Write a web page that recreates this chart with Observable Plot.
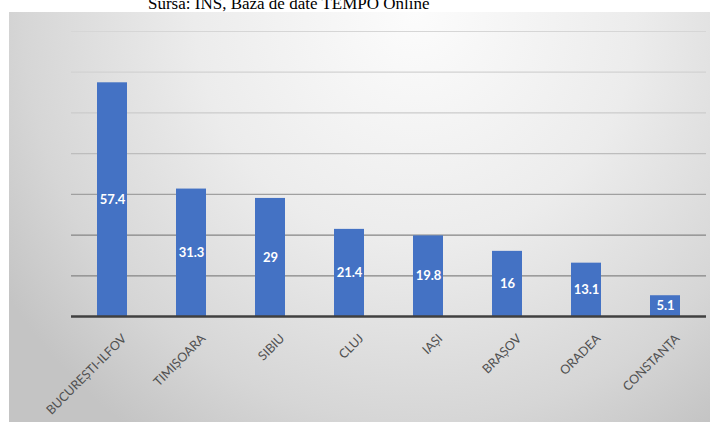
<!DOCTYPE html>
<html>
<head>
<meta charset="utf-8">
<script src="https://cdn.jsdelivr.net/npm/d3@7"></script>
<script src="https://cdn.jsdelivr.net/npm/@observablehq/plot@0.6"></script>
<style>
  html, body { margin: 0; padding: 0; background: #ffffff; }
  #wrap { position: relative; width: 710px; height: 422px; overflow: hidden; }
  #title { position: absolute; left: 148px; top: -5px; font-family: "Liberation Serif", "Times New Roman", serif; font-size: 17px; line-height: 17px; color: #000; white-space: nowrap; }
  #chart { position: absolute; left: 9px; top: 12px; }
</style>
</head>
<body>
<div id="wrap">
  <div id="title">Sursa: INS, Baza de date TEMPO Online</div>
  <div id="chart"></div>
</div>
<script>
const categories = ["BUCUREȘTI-ILFOV", "TIMIȘOARA", "SIBIU", "CLUJ", "IAȘI", "BRAȘOV", "ORADEA", "CONSTANȚA"];
const values = [57.4, 31.3, 29, 21.4, 19.8, 16, 13.1, 5.1];
const gridTicks = [0, 10, 20, 30, 40, 50, 60, 70];

const data = categories.map((c, i) => ({category: c, value: values[i]}));

const gridColor = v => v >= 70 ? "#d6d6d6" : v >= 60 ? "#d2d2d2" : v >= 50 ? "#cbcbcb" : v >= 40 ? "#bdbdbd" : v >= 30 ? "#a0a0a0" : "#858585";

const chart = Plot.plot({
  width: 701,
  height: 410,
  marginLeft: 62,
  marginRight: 4,
  marginTop: 19,
  marginBottom: 106,
  style: {
    background: "radial-gradient(ellipse 70% 125% at 58% 0%, #fcfcfc 0%, #ececec 45%, #d6d6d6 80%, #c4c4c4 100%)",
    fontFamily: "Lato, 'Open Sans', sans-serif",
    overflow: "visible"
  },
  x: {domain: categories, type: "band", paddingInner: 0.62, paddingOuter: 0.31, label: null},
  y: {domain: [0, 70], axis: null},
  marks: [
    Plot.ruleY(gridTicks.filter(t => t > 0), {stroke: gridColor, strokeWidth: 1.2}),
    Plot.barY(data, {x: "category", y: "value", fill: "#4472C4"}),
    Plot.ruleY([0], {stroke: "#404040", strokeWidth: 2.5}),
    Plot.text(data, {x: "category", y: d => d.value / 2, text: d => String(d.value), fill: "#ffffff", fontSize: 13, fontWeight: "bold"}),
    Plot.axisX({tickSize: 0, tickPadding: 20, tickRotate: -45, dx: 12, fontSize: 12.5, fill: "#505050", label: null})
  ]
});
document.getElementById("chart").appendChild(chart);
</script>
</body>
</html>
